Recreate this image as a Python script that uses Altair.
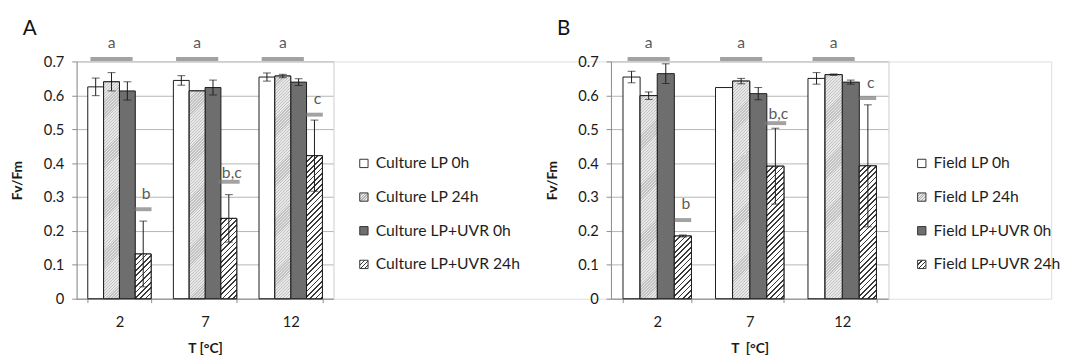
import math
import altair as alt
import pandas as pd

# ---------------- data ----------------
cats = ["2", "7", "12"]

series_A = ["Culture LP 0h", "Culture LP 24h", "Culture LP+UVR 0h", "Culture LP+UVR 24h"]
A_lp0 = [0.625, 0.644, 0.654]
A_lp0_sd = [0.026, 0.014, 0.012]
A_lp24 = [0.640, 0.613, 0.657]
A_lp24_sd = [0.027, 0.0, 0.005]
A_uv0 = [0.613, 0.623, 0.639]
A_uv0_sd = [0.027, 0.022, 0.010]
A_uv24 = [0.132, 0.237, 0.422]
A_uv24_sd = [0.097, 0.070, 0.105]
A_top_letters = ["a", "a", "a"]
A_uv24_letters = ["b", "b,c", "c"]
A_uv24_line_level = [0.264, 0.345, 0.543]
A_uv24_text_level = [0.309, 0.372, 0.589]

series_B = ["Field LP 0h", "Field LP 24h", "Field LP+UVR 0h", "Field LP+UVR 24h"]
B_lp0 = [0.654, 0.623, 0.650]
B_lp0_sd = [0.017, 0.0, 0.017]
B_lp24 = [0.599, 0.642, 0.661]
B_lp24_sd = [0.011, 0.008, 0.002]
B_uv0 = [0.664, 0.605, 0.639]
B_uv0_sd = [0.029, 0.018, 0.006]
B_uv24 = [0.185, 0.391, 0.392]
B_uv24_sd = [0.003, 0.112, 0.180]
B_top_letters = ["a", "a", "a"]
B_uv24_letters = ["b", "b,c", "c"]
B_uv24_line_level = [0.232, 0.518, 0.592]
B_uv24_text_level = [0.280, 0.545, 0.637]

top_line_level = 0.707
top_text_level = 0.753

# ---------------- styling ----------------
FONT = "Lato"
HEIGHT = 242
YMAX = 0.7
PAD_IN = 0.26
W_A = 262
W_B = 283
W_LA = 283
W_LB = 166
INK = "#1a1a1a"
GRID = "#b4b4b4"
AXISC = "#8c8c8c"
LETTER = "#5a5a5a"
SIGLINE = "#7a7a7a"
SOLID = ["#ffffff", "#dedede", "#6e6e6e", "#ffffff"]


def hatch(w, h, period, frac, bg, fg):
    """Diagonal '/' stripes for a w x h box (objectBoundingBox gradient)."""
    a = (w + h) / (w * w + h * h)
    n = (w + h) / period
    stops = []
    i = 0
    while i < n:
        t0 = min(i / n, 1.0)
        t1 = min((i + frac) / n, 1.0)
        t2 = min((i + 1) / n, 1.0)
        stops += [(t0, fg), (t1, fg), (t1, bg), (t2, bg)]
        i += 1
    return alt.LinearGradient(
        gradient="linear",
        stops=[alt.GradientStop(offset=o, color=c) for o, c in stops],
        x1=0, y1=0, x2=a * w, y2=a * h,
    )


LP24_STYLE = dict(period=3.0, frac=0.45, bg="#e8e8e8", fg="#c2c2c2")
UV24_STYLE = dict(period=5.5, frac=0.32, bg="#ffffff", fg="#3a3a3a")


def bar_table(series, cols, sds):
    rows = []
    for s, vals, sd in zip(series, cols, sds):
        for c, v, e in zip(cats, vals, sd):
            rows.append(dict(cat=c, series=s, value=v, lo=v - e, hi=v + e, sd=e))
    return pd.DataFrame(rows)


def panel(series, cols, sds, top_letters, letters, line_lv, text_lv, width, label, xtitle):
    df = bar_table(series, cols, sds)
    bar_w = width / 3 * (1 - PAD_IN) / 4
    px_per = HEIGHT / YMAX

    xs = alt.Scale(type="band", paddingInner=PAD_IN, paddingOuter=PAD_IN / 2)
    xax = alt.Axis(labelAngle=0, tickBand="extent", tickSize=4, labelPadding=12,
                   labelFontSize=15, titleFontSize=14, titleFontWeight="bold",
                   titlePadding=13, domainColor=AXISC, tickColor=AXISC, labelColor=INK,
                   titleColor=INK, grid=False)
    yax = alt.Axis(values=[0, 0.1, 0.2, 0.3, 0.4, 0.5, 0.6, 0.7], format=".1~f",
                   tickSize=5, labelPadding=8, labelFontSize=15, titleFontSize=14,
                   titleFontWeight="bold", titlePadding=19, gridColor=GRID,
                   domainColor=AXISC, tickColor=AXISC, labelColor=INK, titleColor=INK)
    ys = alt.Scale(domain=[0, YMAX], nice=False, zero=True)

    def X():
        return alt.X("cat:N", sort=cats, scale=xs, axis=xax, title=xtitle)

    def XO():
        return alt.XOffset("series:N", sort=series,
                           scale=alt.Scale(type="band", domain=series, paddingInner=0,
                                           paddingOuter=0))

    def Y(f):
        return alt.Y(f, type="quantitative", scale=ys, axis=yax, title="Fv/Fm")

    base = alt.Chart(df)
    layers = [
        base.mark_bar(stroke=INK, strokeWidth=1).encode(
            x=X(), xOffset=XO(), y=Y("value"),
            fill=alt.Fill("series:N", scale=alt.Scale(domain=series, range=SOLID), legend=None),
        )
    ]
    for si, style in ((1, LP24_STYLE), (3, UV24_STYLE)):
        s = series[si]
        for c, v in zip(cats, cols[si]):
            g = hatch(bar_w, v * px_per, **style)
            layers.append(
                base.transform_filter((alt.datum.series == s) & (alt.datum.cat == c))
                .mark_bar(fill=g, stroke=INK, strokeWidth=1)
                .encode(x=X(), xOffset=XO(), y=Y("value"))
            )
    err = base.transform_filter(alt.datum.sd > 0)
    layers.append(err.mark_rule(color=INK, strokeWidth=1).encode(
        x=X(), xOffset=XO(), y=Y("lo"), y2="hi"))
    layers.append(err.mark_tick(color=INK, size=8, thickness=1).encode(
        x=X(), xOffset=XO(), y=Y("lo")))
    layers.append(err.mark_tick(color=INK, size=8, thickness=1).encode(
        x=X(), xOffset=XO(), y=Y("hi")))

    # significance letters over the first three bars of each group
    tdf = pd.DataFrame({"cat": cats, "series": [series[1]] * 3, "txt": top_letters,
                        "lvl": [top_line_level] * 3, "tl": [top_text_level] * 3})
    tb = alt.Chart(tdf)
    layers.append(tb.mark_tick(color=SIGLINE, size=43, thickness=4).encode(
        x=X(), xOffset=XO(), y=Y("lvl")))
    layers.append(tb.mark_text(fontSize=16, color=LETTER, baseline="middle").encode(
        x=X(), xOffset=XO(), y=Y("tl"), text="txt:N"))

    # letters above the UVR 24h bars
    ldf = pd.DataFrame({"cat": cats, "series": [series[3]] * 3, "txt": letters,
                        "lvl": line_lv, "tl": text_lv,
                        "w": [17 if t != "b,c" else 22 for t in letters]})
    lb = alt.Chart(ldf)
    layers.append(lb.mark_tick(color=SIGLINE, thickness=4, xOffset=3).encode(
        x=X(), xOffset=XO(), y=Y("lvl"),
        size=alt.Size("w:Q", scale=None, legend=None)))
    layers.append(lb.mark_text(fontSize=16, color=LETTER, baseline="middle", dx=3).encode(
        x=X(), xOffset=XO(), y=Y("tl"), text="txt:N"))

    return alt.layer(*layers).properties(
        width=width, height=HEIGHT,
        title=alt.TitleParams(label, anchor="start", frame="group", fontSize=21,
                              fontWeight="normal", font=FONT, color="#111111",
                              dx=-55, offset=-3),
    )


def legend_panel(series, width, left):
    df = pd.DataFrame({"series": series})
    y = alt.Y("series:N", sort=series,
              scale=alt.Scale(type="point", domain=series, range=[104, 207], padding=0),
              axis=None)
    fills = [SOLID[0], hatch(8.5, 8.5, **dict(LP24_STYLE, period=2.8, fg="#b0b0b0")), SOLID[2],
             hatch(8.5, 8.5, **dict(UV24_STYLE, period=4.2))]
    layers = []
    for s, f in zip(series, fills):
        layers.append(
            alt.Chart(df).transform_filter(alt.datum.series == s)
            .mark_square(size=72, filled=True, fill=f, stroke="#333333", strokeWidth=1, opacity=1)
            .encode(x=alt.value(left), y=y)
        )
    layers.append(
        alt.Chart(df).mark_text(align="left", baseline="middle", dx=12, fontSize=16,
                                font=FONT, color="#1e1e1e")
        .encode(x=alt.value(left), y=y, text="series:N")
    )
    return alt.layer(*layers).properties(width=width, height=HEIGHT)


chartA = panel(series_A, [A_lp0, A_lp24, A_uv0, A_uv24],
               [A_lp0_sd, A_lp24_sd, A_uv0_sd, A_uv24_sd],
               A_top_letters, A_uv24_letters, A_uv24_line_level, A_uv24_text_level,
               W_A, "A", "T [°C]")
chartB = panel(series_B, [B_lp0, B_lp24, B_uv0, B_uv24],
               [B_lp0_sd, B_lp24_sd, B_uv0_sd, B_uv24_sd],
               B_top_letters, B_uv24_letters, B_uv24_line_level, B_uv24_text_level,
               W_B, "B", "T\u00a0 [°C]")

chart = (
    alt.hconcat(chartA, legend_panel(series_A, W_LA, 31), chartB,
                legend_panel(series_B, W_LB, 34),
                spacing=0, bounds="flush")
    .resolve_scale(xOffset="independent", fill="independent", size="independent")
    .properties(padding={"left": 2, "top": 6, "right": 0, "bottom": 0})
    .configure_view(stroke=None)
    .configure(font=FONT)
    .configure_axis(labelFont=FONT, titleFont=FONT)
    .configure_text(font=FONT)
)

chart.save("out.html", embed_options={"renderer": "svg", "actions": False})
